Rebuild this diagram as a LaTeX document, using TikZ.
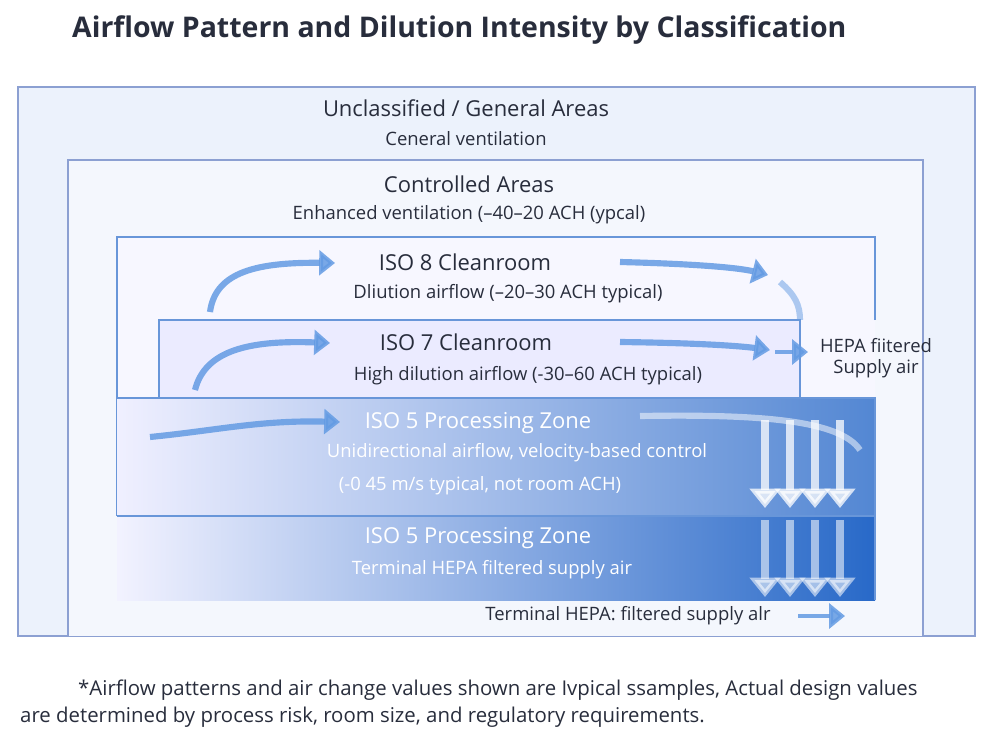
\documentclass[tikz,border=0pt]{standalone}
\usepackage{fontspec}
\setmainfont{Open Sans}
\usetikzlibrary{positioning}
\usetikzlibrary{arrows.meta}
\definecolor{frameblue}{RGB}{140,160,210}
\definecolor{flowblue}{RGB}{60,130,220}
\definecolor{deepblue}{RGB}{40,105,200}
\definecolor{paleblue}{RGB}{236,242,252}
\definecolor{textgray}{RGB}{40,45,60}
\tikzset{
  zone/.style={draw=frameblue, line width=1.6pt},
  flow/.style={flowblue!80, line width=3.5pt, opacity=0.85, -{Triangle[length=9pt,width=14pt]}},
  down/.style={white, line width=5pt, opacity=0.75, -{Triangle[length=11pt,width=17pt]}},
  head/.style={font=\fontsize{12.5}{14}\selectfont, text=textgray},
  sub/.style={font=\fontsize{10.5}{12}\selectfont, text=textgray},
}
\begin{document}
\begin{tikzpicture}[x=0.02cm,y=-0.02cm]
\useasboundingbox (0,0) rectangle (1000,737);
\fill[white] (0,0) rectangle (1000,737);

% title
\node[anchor=west, font=\fontsize{16.2}{18}\selectfont\bfseries, text=textgray] (title) at (66,30) {Airflow Pattern and Dilution Intensity by Classification};

% nested zones
\fill[paleblue] (18,87) rectangle (975,636);
\draw[zone] (18,87) rectangle (975,636);
\fill[paleblue!60!white] (68,160) rectangle (923,636);
\draw[zone] (68,636) -- (68,160) -- (923,160) -- (923,636);
\fill[blue!3] (117,237) rectangle (875,398);
\draw[zone, draw=deepblue!70] (875,320) -- (875,237) -- (117,237) -- (117,516);
\fill[white!92!blue] (159,320) rectangle (800,398);
\draw[zone, draw=deepblue!70] (159,320) rectangle (800,398);
\shade[left color=blue!6, right color=deepblue!80] (117,398) rectangle (875,516);
\shade[left color=blue!5, middle color=deepblue!75, right color=deepblue] (117,516) rectangle (875,600);
\draw[zone, draw=deepblue!70] (117,398) -- (875,398) -- (875,600);
\draw[zone, draw=deepblue!70] (117,516) -- (875,516);

% labels
\node[head] (ungen) at (466,108) {Unclassified / General Areas};
\node[sub] (ungensub) at (466,139) {Ceneral ventilation};
\node[head] (ctrl) at (469,184) {Controlled Areas};
\node[sub] (ctrlsub) at (469,215) {Enhanced ventilation (–40–20 ACH (ypcal)};
\node[head] (iso8) at (465,262) {ISO 8 Cleanroom};
\node[sub] (iso8sub) at (508,294) {Dliution airflow (–20–30 ACH typical)};
\node[head] (iso7) at (466,342) {ISO 7 Cleanroom};
\node[sub] (iso7sub) at (528,376) {High dilution airflow (-30–60 ACH typical)};
\node[head, text=white] (iso5a) at (478,423) {ISO 5 Processing Zone};
\node[sub, text=white] (iso5asub) at (517,453) {Unidirectional airflow, velocity-based control};
\node[sub, text=white] (iso5anote) at (480,486) {(-0 45 m/s typical, not room ACH)};
\node[head, text=white] (iso5b) at (478,538) {ISO 5 Processing Zone};
\node[sub, text=white] (iso5bsub) at (492,570) {Terminal HEPA filtered supply air};
\node[sub, align=center] (hepa) at (876,358) {HEPA fiitered\\Supply air};
\node[sub] (term) at (628,616) {Terminal HEPA: filtered supply alr};

% curved airflow arrows
\draw[flow] (210,312) .. controls (215,275) and (250,262) .. (335,263);
\draw[flow] (620,262) .. controls (700,264) and (740,268) .. (768,275);
\draw[flow, -, opacity=0.5] (780,282) .. controls (795,295) and (800,305) .. (800,320);
\draw[flow] (195,390) .. controls (205,350) and (250,340) .. (330,343);
\draw[flow] (620,342) .. controls (700,343) and (740,346) .. (770,350);
\draw[flow, line width=2.5pt] (775,352) -- (808,352);
\draw[flow] (150,437) .. controls (220,430) and (260,420) .. (340,422);
\draw[flow, -, opacity=0.5, white] (640,416) .. controls (760,414) and (840,420) .. (860,450);
\draw[flow, line width=2.5pt] (798,616) -- (845,616);

% downward unidirectional flow
\foreach \xx in {765,790,815,840} {
  \draw[down] (\xx,420) -- (\xx,508);
  \draw[down, opacity=0.55] (\xx,520) -- (\xx,597);
}

% footnote
\node[anchor=west, font=\fontsize{11.6}{13}\selectfont, text=textgray] (note1) at (72,690) {*Airflow patterns and air change values shown are Ivpical ssamples, Actual design values};
\node[anchor=west, font=\fontsize{11.6}{13}\selectfont, text=textgray] (note2) at (14,717) {are determined by process risk, room size, and regulatory requirements.};
\end{tikzpicture}
\end{document}
